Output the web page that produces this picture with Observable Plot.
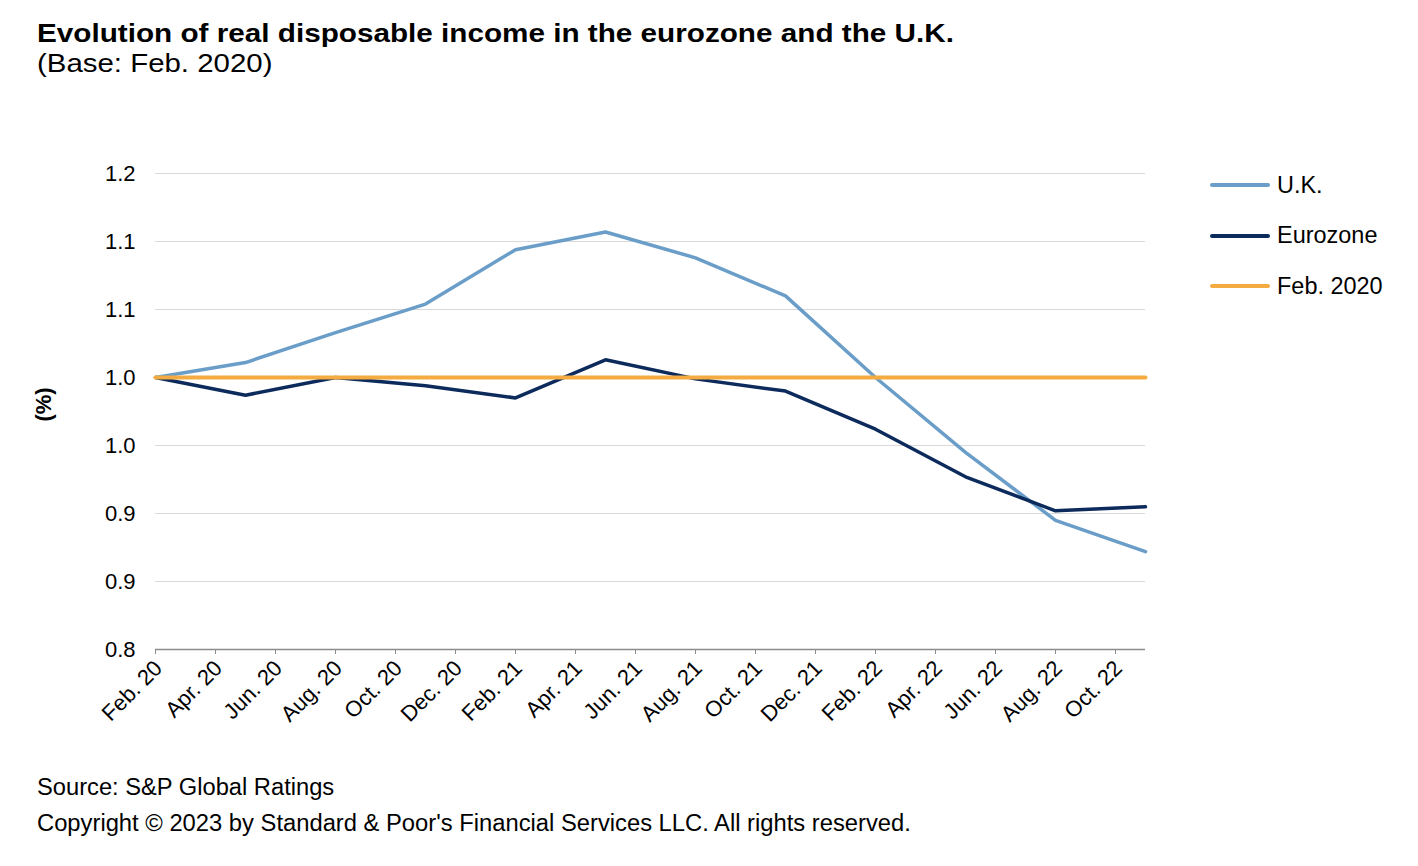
<!DOCTYPE html>
<html>
<head>
<meta charset="utf-8">
<script src="https://cdn.jsdelivr.net/npm/d3@7"></script>
<script src="https://cdn.jsdelivr.net/npm/@observablehq/plot@0.6"></script>
<style>
  html, body { margin: 0; padding: 0; background: #fff; }
  body { width: 1418px; height: 866px; position: relative; font-family: "Liberation Sans", Arial, sans-serif; color: #000; overflow: hidden; }
  .t { position: absolute; white-space: nowrap; line-height: 1; transform-origin: 0 50%; }
  .title { left: 37px; top: 19.5px; font-size: 26.5px; font-weight: bold; transform: scaleX(1.12); }
  .subtitle { left: 37px; top: 50px; font-size: 26.5px; transform: scaleX(1.11); }
  #chart { position: absolute; left: 0; top: 100px; }
  .legend { position: absolute; left: 1210px; top: 170px; font-size: 23px; }
  .legend .item { position: absolute; left: 0; height: 30px; display: flex; align-items: center; white-space: nowrap; }
  .legend .sw { width: 60px; height: 4px; border-radius: 2px; margin-right: 7px; }
  .legend span { display: inline-block; transform: scaleX(1.02); transform-origin: 0 50%; }
  .source { left: 37px; top: 775.5px; font-size: 23px; transform: scaleX(1.03); }
  .copy { left: 37px; top: 811.5px; font-size: 23px; transform: scaleX(1.033); }
</style>
</head>
<body>
<div class="t title">Evolution of real disposable income in the eurozone and the U.K.</div>
<div class="t subtitle">(Base: Feb. 2020)</div>
<div id="chart"></div>
<div class="legend" id="legend"></div>
<div class="t source">Source: S&amp;P Global Ratings</div>
<div class="t copy">Copyright © 2023 by Standard &amp; Poor's Financial Services LLC. All rights reserved.</div>
<script>
// ---- data ----
const quarterDates = ["2020-02","2020-05","2020-08","2020-11","2021-02","2021-05","2021-08","2021-11","2022-02","2022-05","2022-08","2022-11"];
const ukValues   = [1.000, 1.011, 1.033, 1.054, 1.094, 1.107, 1.088, 1.060, 1.000, 0.945, 0.895, 0.872];
const euroValues = [1.000, 0.987, 1.000, 0.994, 0.985, 1.013, 0.999, 0.990, 0.962, 0.927, 0.902, 0.905];
const baseValues = [1.000, 1.000, 1.000, 1.000, 1.000, 1.000, 1.000, 1.000, 1.000, 1.000, 1.000, 1.000];

const seriesNames = ["U.K.", "Eurozone", "Feb. 2020"];
const seriesColors = ["#6a9ec8", "#0c2b5c", "#f4ac42"];

const xTickDates  = ["2020-02","2020-04","2020-06","2020-08","2020-10","2020-12","2021-02","2021-04","2021-06","2021-08","2021-10","2021-12","2022-02","2022-04","2022-06","2022-08","2022-10"];
const xTickLabels = ["Feb. 20","Apr. 20","Jun. 20","Aug. 20","Oct. 20","Dec. 20","Feb. 21","Apr. 21","Jun. 21","Aug. 21","Oct. 21","Dec. 21","Feb. 22","Apr. 22","Jun. 22","Aug. 22","Oct. 22"];
const xDomainDates = ["2020-02", "2022-11"];

const yTicks      = [0.80, 0.85, 0.90, 0.95, 1.00, 1.05, 1.10, 1.15];
const yTickLabels = ["0.8", "0.9", "0.9", "1.0", "1.0", "1.1", "1.1", "1.2"];

// month index from "YYYY-MM" (equal spacing per month, as on the original date axis)
const monthIndex = s => { const [y, m] = s.split("-").map(Number); return (y - 2020) * 12 + (m - 2); };

const rows = (vals, name) => quarterDates.map((d, i) => ({ t: monthIndex(d), v: vals[i], s: name }));
const ukData = rows(ukValues, seriesNames[0]);
const euroData = rows(euroValues, seriesNames[1]);
const baseData = rows(baseValues, seriesNames[2]);
const xTicks = xTickDates.map(monthIndex);

const chart = Plot.plot({
  width: 1418,
  height: 660,
  marginTop: 73,
  marginBottom: 111,
  marginLeft: 155,
  marginRight: 273,
  style: { fontFamily: "'Liberation Sans', Arial, sans-serif", fontSize: "22px", color: "#000", background: "transparent", overflow: "visible" },
  x: { type: "linear", domain: xDomainDates.map(monthIndex) },
  y: { domain: [yTicks[0], yTicks[yTicks.length - 1]] },
  marks: [
    Plot.ruleY(yTicks.slice(1), { stroke: "#d9d9d9", strokeWidth: 1 }),
    Plot.axisY({ ticks: yTicks, tickFormat: d => yTickLabels[yTicks.indexOf(d)], tickSize: 0, tickPadding: 20, label: null, fontSize: 22, fill: "#000" }),
    Plot.axisX({ ticks: xTicks, tickSize: 5, stroke: "#8c8c8c", tickFormat: () => "", label: null }),
    Plot.axisX({ ticks: xTicks, tickFormat: d => xTickLabels[xTicks.indexOf(d)], tickRotate: -45, tickSize: 0, tickPadding: 15, dx: 3, fill: "#000", label: null, fontSize: 22 }),
    Plot.ruleY([yTicks[0]], { stroke: "#8c8c8c", strokeWidth: 1.5 }),
    Plot.line(ukData, { x: "t", y: "v", stroke: seriesColors[0], strokeWidth: 3.5, strokeLinejoin: "round", strokeLinecap: "round" }),
    Plot.line(euroData, { x: "t", y: "v", stroke: seriesColors[1], strokeWidth: 3.5, strokeLinejoin: "round", strokeLinecap: "round" }),
    Plot.line(baseData, { x: "t", y: "v", stroke: seriesColors[2], strokeWidth: 4, strokeLinejoin: "round" }),
    Plot.text(["(%)"], { frameAnchor: "left", textAnchor: "middle", dx: -112, dy: -7, rotate: -90, fontWeight: "bold", fontSize: 22, fill: "#000" })
  ]
});
document.getElementById("chart").appendChild(chart);

// legend
const legend = document.getElementById("legend");
seriesNames.forEach((name, i) => {
  const item = document.createElement("div");
  item.className = "item";
  item.style.top = (i * 50.5) + "px";
  const sw = document.createElement("div");
  sw.className = "sw";
  sw.style.background = seriesColors[i];
  const label = document.createElement("span");
  label.textContent = name;
  item.appendChild(sw);
  item.appendChild(label);
  legend.appendChild(item);
});
</script>
</body>
</html>
